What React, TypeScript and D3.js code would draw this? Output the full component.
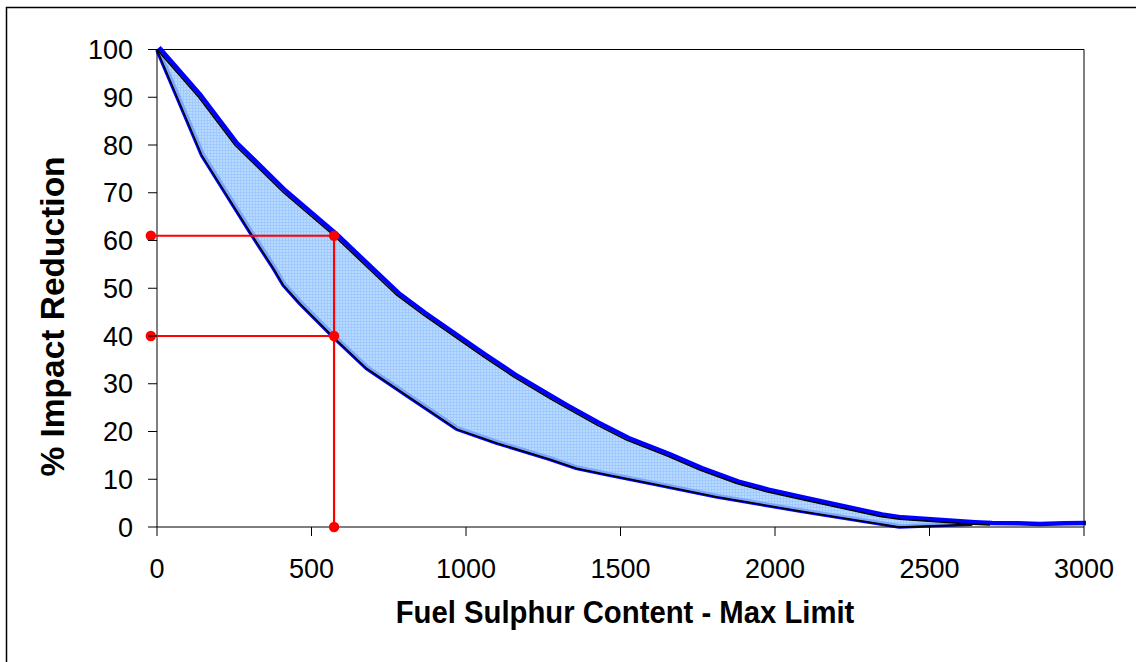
import React from "react";
import * as d3 from "d3";

// ---- Data ----
const xTicks = [0, 500, 1000, 1500, 2000, 2500, 3000];
const yTicks = [0, 10, 20, 30, 40, 50, 60, 70, 80, 90, 100];

// upper bound curve [sulphur content, % reduction]
const upperCurve: [number, number][] = [
  [0, 100], [135, 90], [252, 80], [410, 70], [573, 61], [775, 48.6],
  [862, 44.4], [1056, 35.7], [1153, 31.5], [1272, 26.9], [1326, 24.9],
  [1423, 21.4], [1520, 18.2], [1650, 14.9], [1757, 11.9], [1876, 9.1],
  [1973, 7.4], [2090, 5.7], [2340, 2.2], [2404, 1.6], [2641, 0.6], [2696, 0.4],
];
// continuation of the blue upper series after the black outline ends
const upperTail: [number, number][] = [
  [2780, 0.35], [2850, 0.2], [2930, 0.35], [3000, 0.4],
];
// lower bound curve
const lowerCurve: [number, number][] = [
  [0, 100], [145, 77.9], [301, 61.8], [377, 54.2], [409, 50.7], [463, 46.8],
  [573, 39.7], [679, 33.2], [830, 26.6], [971, 20.5], [1100, 17.6],
  [1272, 14.2], [1358, 12.3], [1455, 11.0], [1617, 8.9], [1811, 6.35],
  [2081, 3.35], [2404, 0], [2641, 0.6],
];
// red guide lines
const guideX = 573;
const guideStartX = -20;
const guideHigh = 61;
const guideLow = 40;
const guideLines: [number, number][][] = [
  [[guideStartX, guideHigh], [guideX, guideHigh]],
  [[guideStartX, guideLow], [guideX, guideLow]],
  [[guideX, guideHigh], [guideX, 0]],
];
const guideDots: [number, number][] = [
  [guideStartX, guideHigh], [guideX, guideHigh],
  [guideStartX, guideLow], [guideX, guideLow], [guideX, 0],
];

const W = 1136;
const H = 662;
const plot = { left: 157, right: 1084, top: 49.5, bottom: 527 };

export default function App() {
  const x = d3.scaleLinear().domain([0, 3000]).range([plot.left, plot.right]);
  const y = d3.scaleLinear().domain([0, 100]).range([plot.bottom, plot.top]);
  const line = d3
    .line<[number, number]>()
    .x((d) => x(d[0]))
    .y((d) => y(d[1]));

  const bandPath =
    line([...upperCurve, ...lowerCurve.slice().reverse()]) + "Z";
  const bluePath = line([...upperCurve, ...upperTail]);
  const upperPath = line(upperCurve);
  const lowerPath = line(lowerCurve);

  const font = "Arial, 'Liberation Sans', Helvetica, sans-serif";

  return (
    <svg
      width={W}
      height={H}
      style={{ position: "absolute", left: 0, top: 0, background: "#fff" }}
    >
      <defs>
        <pattern id="dither" width="3" height="3" patternUnits="userSpaceOnUse">
          <rect width="3" height="3" fill="#b8daff" />
          <rect width="3" height="1" fill="#a0caff" />
          <rect width="1" height="3" fill="#a0caff" />
        </pattern>
      </defs>
      {/* outer chart border */}
      <rect x={6.5} y={7.5} width={W + 20} height={H + 20} fill="none" stroke="#000" strokeWidth={1.5} />

      {/* band fill */}
      <path d={bandPath} fill="url(#dither)" stroke="none" />

      {/* lower edge shading */}
      <path d={lowerPath!} fill="none" stroke="#7aa6ff" strokeWidth={3} transform="translate(1.5,-1.2)" />
      <path d={lowerPath!} fill="none" stroke="#0000ff" strokeWidth={2} transform="translate(-0.8,0.8)" />

      {/* blue upper series */}
      <path d={bluePath!} fill="none" stroke="#0000ff" strokeWidth={4.5} strokeLinejoin="round" transform="translate(2,-2)" />

      {/* black outlines */}
      <path d={upperPath!} fill="none" stroke="#000" strokeWidth={1.5} />
      <path d={lowerPath!} fill="none" stroke="#000" strokeWidth={1.5} />

      {/* plot border / axes */}
      <line x1={plot.left} x2={plot.right} y1={plot.top} y2={plot.top} stroke="#000" strokeWidth={1} />
      <line x1={plot.right} x2={plot.right} y1={plot.top} y2={plot.bottom} stroke="#000" strokeWidth={1} />
      <line x1={plot.left} x2={plot.right} y1={plot.bottom} y2={plot.bottom} stroke="#000" strokeWidth={1} />
      <line x1={plot.left} x2={plot.left} y1={plot.top} y2={plot.bottom} stroke="#000" strokeWidth={1} />

      {/* red guides */}
      {guideLines.map((g, i) => (
        <path key={i} d={line(g)!} fill="none" stroke="#ff0000" strokeWidth={2.2} />
      ))}
      {guideDots.map((d, i) => (
        <circle key={i} cx={x(d[0])} cy={y(d[1])} r={5.2} fill="#ff0000" />
      ))}

      {/* y ticks */}
      {yTicks.map((t) => (
        <g key={t}>
          <line x1={plot.left - 9} x2={plot.left} y1={y(t)} y2={y(t)} stroke="#000" strokeWidth={1} />
          <text
            x={133}
            y={y(t) + 9.5}
            textAnchor="end"
            fontFamily={font}
            fontSize={27}
            fill="#000"
          >
            {t}
          </text>
        </g>
      ))}

      {/* x ticks */}
      {xTicks.map((t) => (
        <g key={t}>
          <line x1={x(t)} x2={x(t)} y1={plot.bottom} y2={plot.bottom + 9} stroke="#000" strokeWidth={1} />
          <text
            x={x(t)}
            y={578}
            textAnchor="middle"
            fontFamily={font}
            fontSize={27}
            fill="#000"
          >
            {t}
          </text>
        </g>
      ))}

      {/* axis titles */}
      <text
        transform="translate(64,316.5) rotate(-90)"
        textAnchor="middle"
        fontFamily={font}
        fontWeight="bold"
        fontSize={33.5}
        fill="#000"
      >
        % Impact Reduction
      </text>
      <text
        transform="translate(625,623) scale(1,1.1)"
        textAnchor="middle"
        fontFamily={font}
        fontWeight="bold"
        fontSize={29.3}
        fill="#000"
      >
        Fuel Sulphur Content - Max Limit
      </text>
    </svg>
  );
}
